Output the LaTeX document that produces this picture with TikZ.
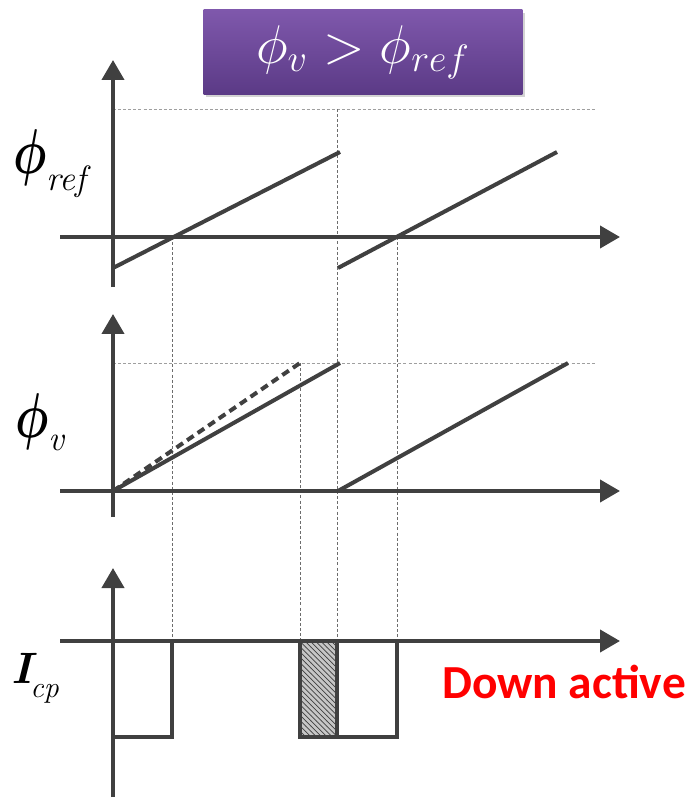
\RequirePackage{fix-cm}
\documentclass[tikz,border=0pt]{standalone}
\usepackage{fontspec}
\newfontfamily\labelfont{Carlito}
\usetikzlibrary{arrows.meta,patterns,shadows}

\newcommand{\bigphi}{\scalebox{0.74}[1]{\fontsize{36}{36}\selectfont\boldmath$\phi$}}
\newcommand{\subtxt}[2][9pt]{\raisebox{-#1}{\fontsize{20}{20}\selectfont\itshape #2}}

\begin{document}
\begin{tikzpicture}[
  x=0.02cm,y=-0.02cm,
  >={Triangle[length=4mm,width=4.4mm]},
  axis/.style={->,line width=0.08cm,draw=cdark},
  wave/.style={line width=0.08cm,draw=cdark},
  guide/.style={line width=0.45pt,draw=gray!85!black,dash pattern=on 1.7pt off 1.2pt},
  level/.style={guide,draw=gray!75},
  lbl/.style={anchor=base west,inner sep=0pt},
  title/.style={rectangle,top color=cpurpA,bottom color=cpurpB,draw=none,
                minimum width=6.38cm,minimum height=1.7cm,text=white,
                font=\fontsize{31}{31}\selectfont,
                drop shadow={shadow xshift=0.5mm,shadow yshift=-0.6mm,opacity=0.35}},
]
  \definecolor{cdark}{HTML}{404040}
  \definecolor{cpurpA}{HTML}{7F58AC}
  \definecolor{cpurpB}{HTML}{5B3A86}
  \useasboundingbox (0,0) rectangle (693,800);

  % title
  \node[title] (title) at (363,52) {$\phi_v > \phi_{ref}$};

  % guide lines
  \draw[level] (113,109) -- (597,109);
  \draw[level] (113,363) -- (597,363);
  \draw[guide] (337,109) -- (337,641);
  \draw[guide] (172,237) -- (172,641);
  \draw[guide] (397,237) -- (397,641);
  \draw[guide] (300,363) -- (300,641);

  % reference phase
  \draw[wave] (113,268) -- (340,152);
  \draw[wave] (338,268) -- (557,152);
  \draw[axis] (60,237) -- (620,237);
  \draw[axis] (113,287) -- (113,60);
  \node[lbl] (lref) at (13,174) {\bigphi\subtxt[9.5pt]{ref}};

  % vco phase
  \draw[wave,dash pattern=on 4.5pt off 2.8pt] (113,491) -- (300,363);
  \draw[wave] (113,491) -- (340,363);
  \draw[wave] (338,491) -- (568,363);
  \draw[axis] (60,491) -- (620,491);
  \draw[axis] (113,517) -- (113,314);
  \node[lbl] (lv) at (15,437) {\bigphi\subtxt[7.5pt]{v}};

  % charge pump current
  \fill[gray!45] (300,641) rectangle (337,737);
  \fill[pattern=north west lines,pattern color=gray!50!black] (300,641) rectangle (337,737);
  \draw[wave] (113,737) -- (172,737) -- (172,641);
  \draw[wave] (300,641) -- (300,737) -- (397,737) -- (397,641);
  \draw[wave] (337,641) -- (337,737);
  \draw[axis] (60,641) -- (620,641);
  \draw[axis] (113,797) -- (113,568);
  \node[lbl] (lcp) at (11,683) {{\fontsize{25}{25}\selectfont\bfseries\itshape I}\kern-1pt\raisebox{-8.5pt}{\fontsize{17}{17}\selectfont\itshape cp}};

  \node[text=red,font=\labelfont\bfseries\fontsize{27}{27}\selectfont] (down) at (564,682) {Down active};
\end{tikzpicture}
\end{document}
